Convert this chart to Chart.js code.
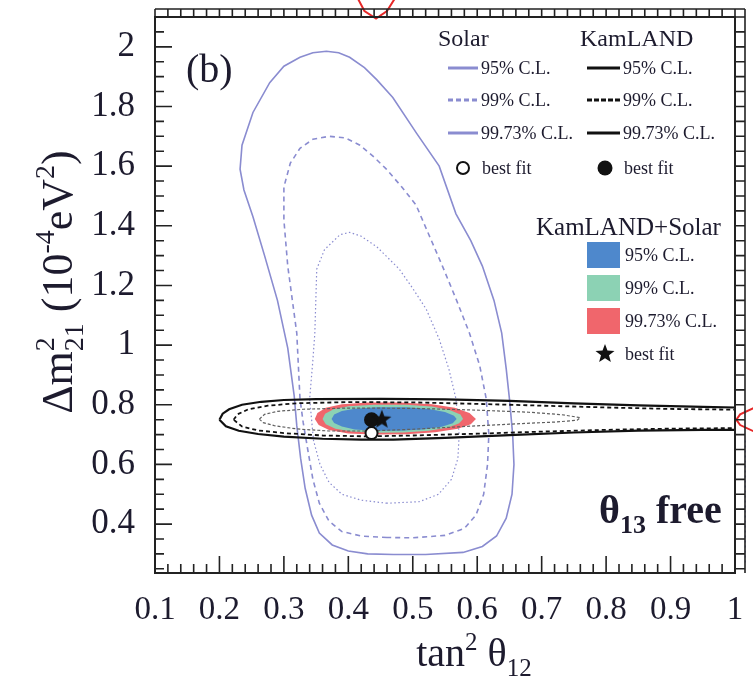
<!DOCTYPE html>
<html>
<head>
<meta charset="utf-8">
<script src="https://cdn.jsdelivr.net/npm/chart.js@4.4.0/dist/chart.umd.min.js"></script>
<style>
  html, body { margin: 0; padding: 0; background: #fff; }
  #wrap { width: 753px; height: 686px; }
</style>
</head>
<body>
<div id="wrap"><canvas id="chart" width="753" height="686"></canvas></div>
<script>
(function () {
  "use strict";

  // axes
  const xTickValues = [0.1, 0.2, 0.3, 0.4, 0.5, 0.6, 0.7, 0.8, 0.9, 1.0];
  const xTickLabels = ["0.1", "0.2", "0.3", "0.4", "0.5", "0.6", "0.7", "0.8", "0.9", "1"];
  const yTickValues = [0.4, 0.6, 0.8, 1.0, 1.2, 1.4, 1.6, 1.8, 2.0];
  const yTickLabels = ["0.4", "0.6", "0.8", "1", "1.2", "1.4", "1.6", "1.8", "2"];

  // Solar contours [tan2, dm2]
  const solar9973 = [
    [0.47, 0.298], [0.43, 0.30], [0.40, 0.31], [0.375, 0.33], [0.355, 0.37], [0.343, 0.43], [0.333, 0.52],
    [0.326, 0.62], [0.32, 0.73], [0.316, 0.83], [0.306, 0.99], [0.29, 1.15], [0.27, 1.30], [0.252, 1.43],
    [0.238, 1.52], [0.232, 1.59], [0.235, 1.67], [0.252, 1.78], [0.278, 1.88], [0.30, 1.935], [0.325, 1.965],
    [0.345, 1.98], [0.366, 1.985], [0.385, 1.98], [0.402, 1.965], [0.425, 1.93], [0.444, 1.89], [0.469, 1.83],
    [0.506, 1.71], [0.541, 1.60], [0.567, 1.44], [0.59, 1.35], [0.608, 1.265], [0.626, 1.15], [0.638, 1.04],
    [0.645, 0.92], [0.65, 0.82], [0.655, 0.70], [0.657, 0.60], [0.654, 0.50], [0.645, 0.42], [0.63, 0.36],
    [0.608, 0.325], [0.578, 0.305], [0.52, 0.298], [0.47, 0.298]
  ];
  const solar99 = [
    [0.46, 0.355], [0.42, 0.36], [0.39, 0.375], [0.37, 0.41], [0.355, 0.47], [0.345, 0.55], [0.337, 0.65],
    [0.33, 0.74], [0.325, 0.82], [0.32, 1.04], [0.306, 1.265], [0.30, 1.42], [0.30, 1.53], [0.31, 1.61],
    [0.325, 1.66], [0.345, 1.69], [0.37, 1.70], [0.395, 1.695], [0.418, 1.67], [0.44, 1.63], [0.459, 1.59],
    [0.483, 1.53], [0.505, 1.47], [0.525, 1.37], [0.546, 1.265], [0.568, 1.15], [0.588, 1.04], [0.604, 0.93],
    [0.614, 0.82], [0.618, 0.70], [0.616, 0.60], [0.61, 0.50], [0.598, 0.43], [0.58, 0.385], [0.55, 0.362],
    [0.50, 0.354], [0.46, 0.355]
  ];
  const solar95 = [
    [0.46, 0.47], [0.42, 0.48], [0.39, 0.50], [0.37, 0.54], [0.356, 0.60], [0.346, 0.68], [0.34, 0.82],
    [0.345, 0.95], [0.348, 1.04], [0.351, 1.255], [0.363, 1.32], [0.387, 1.37], [0.402, 1.378], [0.42, 1.365],
    [0.444, 1.33], [0.479, 1.255], [0.50, 1.19], [0.521, 1.12], [0.541, 1.02], [0.556, 0.92], [0.567, 0.82],
    [0.572, 0.70], [0.57, 0.62], [0.56, 0.55], [0.54, 0.50], [0.51, 0.475], [0.46, 0.47]
  ];

  // KamLAND contours
  const kam9973 = [
    [0.2, 0.75], [0.205, 0.77], [0.215, 0.785], [0.235, 0.80], [0.265, 0.81], [0.30, 0.816], [0.35, 0.819],
    [0.45, 0.82], [0.55, 0.818], [0.65, 0.813], [0.75, 0.805], [0.85, 0.798], [0.95, 0.793], [1.02, 0.79],
    [1.02, 0.716], [0.95, 0.716], [0.85, 0.713], [0.75, 0.707], [0.65, 0.698], [0.55, 0.689], [0.47, 0.683],
    [0.42, 0.683], [0.36, 0.686], [0.30, 0.693], [0.26, 0.702], [0.23, 0.713], [0.21, 0.728], [0.2, 0.75]
  ];
  const kam99 = [
    [0.222, 0.75], [0.228, 0.768], [0.245, 0.785], [0.275, 0.797], [0.32, 0.805], [0.40, 0.809], [0.50, 0.808],
    [0.60, 0.803], [0.70, 0.797], [0.80, 0.791], [0.90, 0.786], [1.02, 0.783],
    [1.02, 0.722], [0.90, 0.72], [0.80, 0.716], [0.70, 0.71], [0.60, 0.703], [0.50, 0.697], [0.43, 0.694],
    [0.36, 0.697], [0.30, 0.705], [0.26, 0.714], [0.235, 0.727], [0.222, 0.75]
  ];
  const kam95 = [
    [0.262, 0.752], [0.27, 0.768], [0.29, 0.778], [0.33, 0.785], [0.40, 0.789], [0.50, 0.788], [0.60, 0.782],
    [0.68, 0.775], [0.73, 0.767], [0.76, 0.757], [0.755, 0.748], [0.72, 0.742], [0.65, 0.735], [0.57, 0.726],
    [0.50, 0.718], [0.43, 0.712], [0.37, 0.712], [0.32, 0.719], [0.285, 0.73], [0.268, 0.74], [0.262, 0.752]
  ];

  // KamLAND+Solar regions
  const comb9973 = [
    [0.348, 0.752], [0.352, 0.772], [0.365, 0.79], [0.39, 0.802], [0.43, 0.808], [0.48, 0.808], [0.53, 0.802],
    [0.565, 0.79], [0.588, 0.772], [0.598, 0.752], [0.59, 0.735], [0.57, 0.72], [0.535, 0.708], [0.49, 0.701],
    [0.44, 0.700], [0.40, 0.704], [0.37, 0.715], [0.354, 0.732], [0.348, 0.752]
  ];
  const comb99 = [
    [0.36, 0.752], [0.364, 0.77], [0.377, 0.785], [0.40, 0.795], [0.44, 0.800], [0.49, 0.800], [0.53, 0.794],
    [0.558, 0.782], [0.574, 0.767], [0.578, 0.752], [0.572, 0.738], [0.555, 0.724], [0.525, 0.713],
    [0.485, 0.707], [0.44, 0.706], [0.405, 0.71], [0.38, 0.72], [0.365, 0.735], [0.36, 0.752]
  ];
  const comb95 = [
    [0.374, 0.752], [0.378, 0.767], [0.39, 0.779], [0.41, 0.787], [0.445, 0.792], [0.49, 0.792], [0.525, 0.786],
    [0.55, 0.776], [0.564, 0.763], [0.568, 0.752], [0.562, 0.738], [0.545, 0.726], [0.515, 0.717],
    [0.48, 0.713], [0.44, 0.713], [0.41, 0.717], [0.39, 0.727], [0.378, 0.739], [0.374, 0.752]
  ];

  // best fits
  const solarBest = [[0.436, 0.705]];
  const kamBest = [[0.436, 0.75]];
  const combBest = [[0.452, 0.75]];

  // pieces of the neighbouring panels
  const edgeTopRed = [[0.414, 2.165], [0.425, 2.12], [0.443, 2.095], [0.46, 2.12], [0.473, 2.165]];
  const edgeRightRed = [[1.03, 0.79], [1.008, 0.768], [1.002, 0.75], [1.008, 0.732], [1.03, 0.71]];
  const edgeRightBlue = [[1.016, 0.68], [1.016, 0.27]];

  const serif = '"Liberation Serif", "Times New Roman", serif';
  const ink = "#1d1b2e";
  const solarColor = "rgb(138,140,208)";
  const blue = "rgb(78,136,204)";
  const green = "rgb(140,210,180)";
  const red = "rgb(240,102,108)";

  function pts(arr) {
    return arr.map((p) => ({ x: p[0], y: p[1] }));
  }

  function makeStar(r) {
    const c = document.createElement("canvas");
    c.width = c.height = r * 2 + 2;
    const g = c.getContext("2d");
    g.beginPath();
    for (let i = 0; i < 10; i++) {
      const a = -Math.PI / 2 + (i * Math.PI) / 5;
      const rr = i % 2 ? r * 0.42 : r;
      g.lineTo(c.width / 2 + rr * Math.cos(a), c.height / 2 + rr * Math.sin(a));
    }
    g.closePath();
    g.fillStyle = "#111";
    g.fill();
    return c;
  }
  const star = makeStar(10);

  function line(data, color, width, dash, order) {
    return {
      data: pts(data), showLine: true, pointRadius: 0, borderColor: color, borderWidth: width,
      borderDash: dash, fill: false, tension: 0, order: order,
    };
  }
  function region(data, color, order) {
    return {
      data: pts(data), showLine: true, pointRadius: 0, borderColor: "rgba(0,0,0,0)", borderWidth: 0,
      backgroundColor: color, fill: "shape", tension: 0, order: order,
    };
  }

  // text with super/subscripts
  function runsWidth(ctx, runs) {
    let w = 0, held = 0;
    runs.forEach((r) => {
      ctx.font = (r.b ? "bold " : "") + r.s + "px " + serif;
      const rw = ctx.measureText(r.t).width;
      if (r.stack) { held = rw; return; }
      w += Math.max(rw, held);
      held = 0;
    });
    return w;
  }
  function drawRuns(ctx, runs, x, y, align) {
    let cx = align === "center" ? x - runsWidth(ctx, runs) / 2 : x;
    let held = 0;
    ctx.textAlign = "left";
    ctx.textBaseline = "alphabetic";
    runs.forEach((r) => {
      ctx.font = (r.b ? "bold " : "") + r.s + "px " + serif;
      ctx.fillText(r.t, cx, y + (r.dy || 0));
      const rw = ctx.measureText(r.t).width;
      if (r.stack) { held = rw; return; }
      cx += Math.max(rw, held);
      held = 0;
    });
  }

  const decor = {
    id: "decor",
    afterDatasetsDraw(chart) {
      const { ctx, chartArea: a, scales } = chart;
      const sx = scales.x, sy = scales.y;
      ctx.save();
      ctx.strokeStyle = "#222";
      ctx.lineWidth = 2;
      ctx.strokeRect(a.left, a.top, a.right - a.left, a.bottom - a.top);
      ctx.lineWidth = 1.6;
      ctx.beginPath();
      // bottom ticks
      for (let i = 0; i <= 45; i++) {
        const v = 0.1 + i * 0.02;
        const px = sx.getPixelForValue(v);
        const len = i % 5 === 0 ? 17 : 9;
        ctx.moveTo(px, a.bottom);
        ctx.lineTo(px, a.bottom - len);
        // top ladder
        ctx.moveTo(px, a.top);
        ctx.lineTo(px, a.top - 8);
      }
      // left ticks + right ladder
      for (let i = 0; i <= 40; i++) {
        const v = 2.1 - i * 0.05;
        if (v < sy.min) break;
        const py = sy.getPixelForValue(v);
        const m = Math.round(v * 100) % 20;
        const len = m === 0 ? 17 : 9;
        ctx.moveTo(a.left, py);
        ctx.lineTo(a.left + len, py);
        ctx.moveTo(a.right, py);
        ctx.lineTo(a.right + 10, py);
      }
      ctx.moveTo(a.left, a.top - 8);
      ctx.lineTo(a.right + 10, a.top - 8);
      ctx.moveTo(a.right + 10, a.top - 8);
      ctx.lineTo(a.right + 10, a.bottom);
      ctx.stroke();
      ctx.restore();
    },
    afterDraw(chart) {
      const { ctx } = chart;
      ctx.save();
      ctx.fillStyle = ink;

      // axis titles
      drawRuns(ctx, [
        { t: "tan", s: 40 }, { t: "2", s: 25, dy: -16 }, { t: " θ", s: 40 }, { t: "12", s: 25, dy: 10 },
      ], 474, 666, "center");
      ctx.save();
      ctx.translate(72, 282);
      ctx.rotate(-Math.PI / 2);
      drawRuns(ctx, [
        { t: "Δm", s: 44 }, { t: "2", s: 28, dy: -18, stack: true }, { t: "21", s: 28, dy: 11 },
        { t: " (10", s: 44 }, { t: "-4", s: 28, dy: -18 }, { t: "eV", s: 44 }, { t: "2", s: 28, dy: -18 },
        { t: ")", s: 44 },
      ], 0, 0, "center");
      ctx.restore();

      // panel label and note
      drawRuns(ctx, [{ t: "(b)", s: 40 }], 186, 82, "left");
      drawRuns(ctx, [
        { t: "θ", s: 40, b: true }, { t: "13", s: 26, dy: 10, b: true }, { t: " free", s: 40, b: true },
      ], 599, 523, "left");

      // legend
      ctx.textBaseline = "middle";
      ctx.textAlign = "left";
      ctx.font = "24px " + serif;
      ctx.fillText("Solar", 438, 40);
      ctx.fillText("KamLAND", 580, 40);
      ctx.font = "25px " + serif;
      ctx.fillText("KamLAND+Solar", 536, 228);

      const rows = [68, 100, 133];
      const names = ["95% C.L.", "99% C.L.", "99.73% C.L."];
      const solDash = [[], [5, 3], []];
      const kamDash = [[], [5, 2], []];
      ctx.font = "18px " + serif;
      rows.forEach((ry, i) => {
        ctx.lineWidth = 3;
        ctx.strokeStyle = solarColor;
        ctx.setLineDash(solDash[i]);
        ctx.beginPath(); ctx.moveTo(448, ry); ctx.lineTo(478, ry); ctx.stroke();
        ctx.strokeStyle = "#111";
        ctx.setLineDash(kamDash[i]);
        ctx.beginPath(); ctx.moveTo(587, ry); ctx.lineTo(620, ry); ctx.stroke();
        ctx.setLineDash([]);
        ctx.fillText(names[i], 481, ry + 1);
        ctx.fillText(names[i], 623, ry + 1);
      });
      // best fit markers
      ctx.lineWidth = 2;
      ctx.strokeStyle = "#111";
      ctx.beginPath(); ctx.arc(463, 168, 6, 0, Math.PI * 2); ctx.stroke();
      ctx.fillStyle = "#111";
      ctx.beginPath(); ctx.arc(605, 168, 7.5, 0, Math.PI * 2); ctx.fill();
      ctx.fillStyle = ink;
      ctx.fillText("best fit", 482, 169);
      ctx.fillText("best fit", 624, 169);

      const boxes = [[blue, 255], [green, 288], [red, 321]];
      boxes.forEach(([c, by], i) => {
        ctx.fillStyle = c;
        ctx.fillRect(587, by - 13, 33, 26);
        ctx.fillStyle = ink;
        ctx.fillText(names[i], 625, by + 1);
      });
      ctx.drawImage(star, 605 - star.width / 2, 354 - star.height / 2);
      ctx.fillText("best fit", 625, 355);
      ctx.restore();
    },
  };

  const ctxEl = document.getElementById("chart").getContext("2d");
  new Chart(ctxEl, {
    type: "scatter",
    data: {
      datasets: [
        line(solar9973, solarColor, 1.6, [], 8),
        line(solar99, solarColor, 1.6, [5, 4], 8),
        line(solar95, solarColor, 1.2, [1.5, 2.5], 8),
        region(comb9973, red, 7),
        region(comb99, green, 6),
        region(comb95, blue, 5),
        line(kam95, "rgb(95,95,95)", 1.2, [3, 2], 3),
        line(kam99, "#111", 1.8, [4, 3], 3),
        line(kam9973, "#111", 2.2, [], 3),
        { data: pts(solarBest), pointRadius: 6, pointBorderWidth: 2, pointBorderColor: "#111", pointBackgroundColor: "#fff", order: 2 },
        { data: pts(kamBest), pointRadius: 7.5, pointBorderWidth: 0, pointBackgroundColor: "#111", order: 1 },
        { data: pts(combBest), pointStyle: star, order: 0 },
        Object.assign(line(edgeTopRed, "rgb(230,40,40)", 2, [], 9), { clip: false }),
        Object.assign(line(edgeRightRed, "rgb(230,40,40)", 2, [], 9), { clip: false }),
        Object.assign(line(edgeRightBlue, solarColor, 1.2, [2, 3], 9), { clip: false }),
      ],
    },
    options: {
      responsive: false,
      animation: false,
      layout: { padding: { left: 0, top: 17, right: 18, bottom: 0 } },
      plugins: { legend: { display: false }, tooltip: { enabled: false } },
      scales: {
        x: {
          type: "linear", min: 0.1, max: 1.0,
          grid: { display: false, drawTicks: false }, border: { display: false },
          afterBuildTicks: (s) => { s.ticks = xTickValues.map((v) => ({ value: v })); },
          afterFit: (s) => { s.height = 113; s.paddingLeft = 0; s.paddingRight = 0; },
          ticks: {
            autoSkip: false, maxRotation: 0, padding: 18, color: ink,
            font: { family: serif, size: 33 },
            callback: (v) => xTickLabels[xTickValues.indexOf(v)],
          },
        },
        y: {
          type: "linear", min: 0.236, max: 2.1,
          grid: { display: false, drawTicks: false }, border: { display: false },
          afterBuildTicks: (s) => { s.ticks = yTickValues.map((v) => ({ value: v })); },
          afterFit: (s) => { s.width = 155; s.paddingTop = 0; s.paddingBottom = 0; },
          ticks: {
            autoSkip: false, padding: 20, color: ink,
            font: { family: serif, size: 35 },
            callback: (v) => yTickLabels[yTickValues.indexOf(v)],
          },
        },
      },
    },
    plugins: [decor],
  });
})();
</script>
</body>
</html>
